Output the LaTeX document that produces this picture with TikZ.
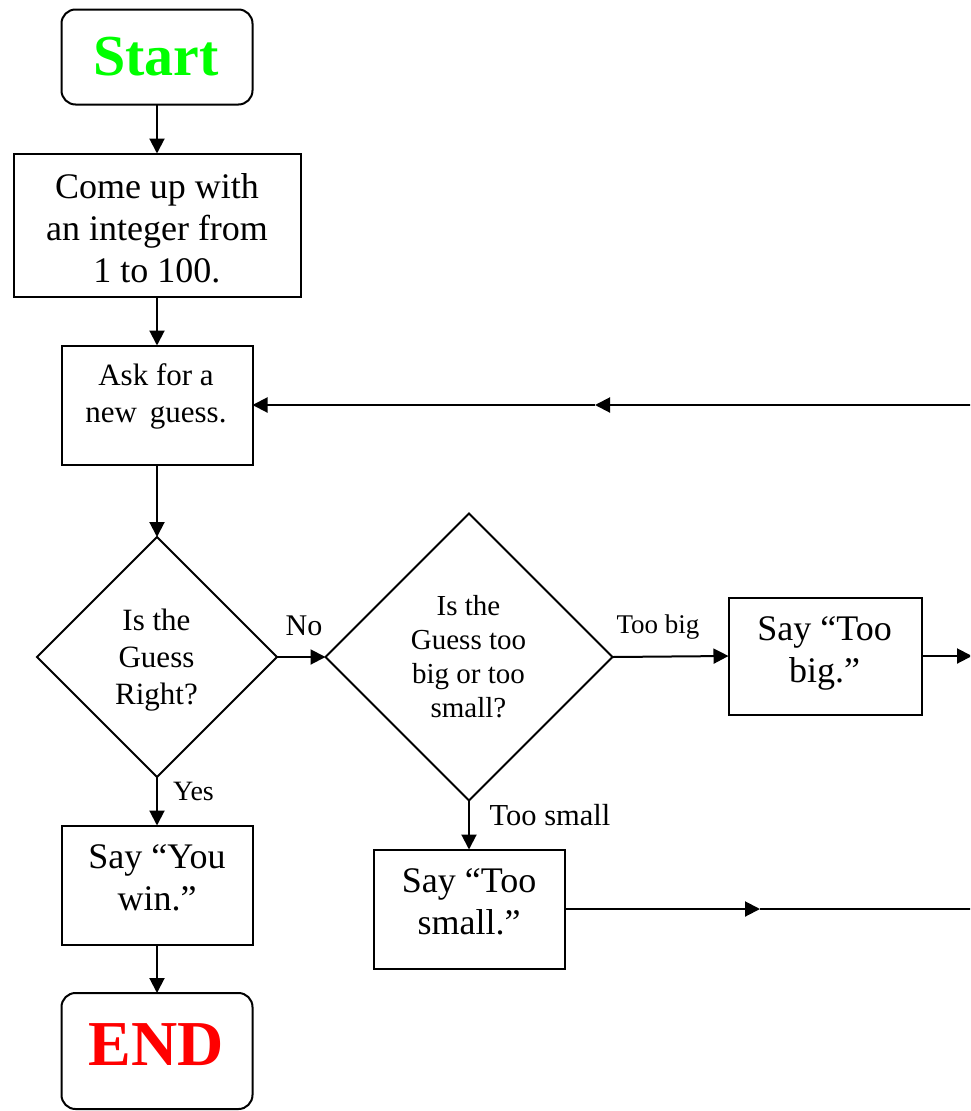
\documentclass[tikz,border=0pt]{standalone}
\usepackage{fontspec}
\setmainfont{Liberation Serif}
\usetikzlibrary{arrows.meta,shapes.geometric}
\definecolor{startgreen}{RGB}{0,255,0}
\definecolor{endred}{RGB}{255,0,0}
\begin{document}
\begin{tikzpicture}[x=1pt,y=-1pt,
  boxshape/.style={draw, line width=2pt, rectangle, inner sep=0pt, outer sep=0pt},
  roundshape/.style={boxshape, rounded corners=14pt},
  decision/.style={draw, line width=2pt, diamond, inner sep=0pt, outer sep=0pt},
  link/.style={line width=2pt, -{Triangle[length=15pt,width=15pt]}},
  plainlink/.style={line width=2pt},
  bigtext/.style={font=\fontsize{36}{42}\selectfont, align=center, inner sep=0pt},
  asktext/.style={font=\fontsize{31}{37}\selectfont, align=center, inner sep=0pt},
  dtextA/.style={font=\fontsize{31}{37}\selectfont, align=center, inner sep=0pt},
  dtextB/.style={font=\fontsize{29}{34}\selectfont, align=center, inner sep=0pt},
  lbl/.style={anchor=base, inner sep=0pt}
]
\useasboundingbox (0,0) rectangle (970,1111);
\clip (0,0) rectangle (970,1111);

% shapes
\node[roundshape, minimum width=191pt, minimum height=95pt] (start) at (157,57) {};
\node[boxshape, minimum width=287pt, minimum height=143pt] (come) at (157,225) {};
\node[boxshape, minimum width=191pt, minimum height=119pt] (ask) at (157,405) {};
\node[decision, minimum width=240pt, minimum height=240pt] (d1) at (157,657) {};
\node[decision, minimum width=287pt, minimum height=287pt] (d2) at (469,657) {};
\node[boxshape, minimum width=193pt, minimum height=117pt] (toobig) at (825,656) {};
\node[boxshape, minimum width=191pt, minimum height=119pt] (sayyou) at (157,885) {};
\node[boxshape, minimum width=191pt, minimum height=119pt] (toosmall) at (469,909) {};
\node[roundshape, minimum width=191pt, minimum height=116pt] (endbox) at (157,1051) {};

% texts
\node[lbl, font=\fontsize{58}{64}\bfseries\selectfont, text=startgreen] (starttext) at (156,75) {Start};
\node[bigtext] (cometext) at (157,231.6) {\strut Come up with\\\strut an integer from\\\strut 1 to 100.};
\node[asktext] (asktxt) at (156,396.1) {\strut Ask for a\\\strut new\hspace{5pt} guess.};
\node[dtextA] (d1text) at (156.5,659.6) {\strut Is the\\\strut Guess\\\strut Right?};
\node[dtextB] (d2text) at (468.5,659.2) {\strut Is the\\\strut Guess too\\\strut big or too\\\strut small?};
\node[bigtext] (toobigtext) at (824.5,652.6) {\strut Say “Too\\\strut big.”};
\node[bigtext] (sayyoutext) at (157,880.6) {\strut Say “You\\\strut win.”};
\node[bigtext] (toosmalltext) at (469,904.6) {\strut Say “Too\\\strut small.”};
\node[lbl, font=\fontsize{64}{70}\bfseries\selectfont, text=endred] (endtext) at (156,1065) {END};

% labels
\node[lbl, font=\fontsize{30}{34}\selectfont] (nolbl) at (304,635) {No};
\node[lbl, font=\fontsize{28}{32}\selectfont] (yeslbl) at (193.5,800) {Yes};
\node[lbl, font=\fontsize{27}{31}\selectfont] (biglbl) at (658,633) {Too big};
\node[lbl, font=\fontsize{30.5}{34}\selectfont] (smalllbl) at (550,825) {Too small};

% free ends
\coordinate (loopR) at (972,405);
\coordinate (loopMid) at (595,405);
\coordinate (bigR) at (972,656);
\coordinate (smallMid) at (760,909);
\coordinate (smallR) at (972,909);

% connectors
\draw[link] (start) -- (come);
\draw[link] (come) -- (ask);
\draw[link] (ask) -- (d1);
\draw[link] (d1.east) -- (d2.west);
\draw[link] (d2.east) -- (toobig.west);
\draw[link] (toobig.east) -- (bigR);
\draw[link] (d1.south) -- (sayyou.north);
\draw[link] (sayyou) -- (endbox);
\draw[link] (d2.south) -- (toosmall.north);
\draw[link] (toosmall.east) -- (smallMid);
\draw[plainlink] (smallMid) -- (smallR);
\draw[link] (loopR) -- (loopMid);
\draw[link] (loopMid) -- (ask.east);
\end{tikzpicture}
\end{document}
